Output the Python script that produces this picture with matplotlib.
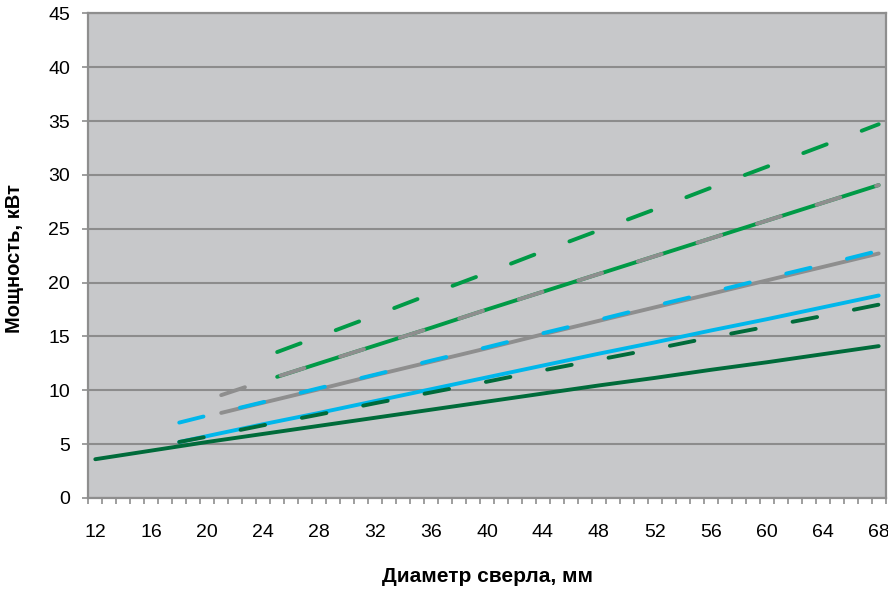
import matplotlib
matplotlib.use('Agg')
import matplotlib.pyplot as plt
from matplotlib.ticker import MultipleLocator

# drill diameter, mm (category axis 12..68)
x_dg = [12, 16, 20, 24, 28, 32, 36, 40, 44, 48, 52, 56, 60, 64, 68]
y_dg_solid = [3.6, 4.4, 5.2, 5.95, 6.7, 7.45, 8.2, 8.95, 9.7, 10.45, 11.15, 11.9, 12.6, 13.35, 14.1]

x_18 = [18, 20, 24, 28, 32, 36, 40, 44, 48, 52, 56, 60, 64, 68]
y_dg_dash = [5.2, 5.7, 6.75, 7.75, 8.8, 9.8, 10.8, 11.85, 12.85, 13.85, 14.9, 15.9, 16.9, 17.95]
y_cyan_solid = [5.2, 5.75, 6.85, 7.9, 9.0, 10.1, 11.2, 12.3, 13.4, 14.45, 15.55, 16.6, 17.7, 18.8]
y_cyan_dash = [7.0, 7.65, 8.9, 10.2, 11.45, 12.75, 14.0, 15.3, 16.55, 17.85, 19.1, 20.4, 21.65, 22.95]

x_21 = [21, 24, 28, 32, 36, 40, 44, 48, 52, 56, 60, 64, 68]
y_gray_solid = [7.9, 8.85, 10.1, 11.4, 12.65, 13.9, 15.2, 16.45, 17.7, 18.95, 20.2, 21.45, 22.7]
y_gray_dash = [9.55, 10.85, 12.5, 14.15, 15.8, 17.5, 19.15, 20.8, 22.45, 24.1, 25.75, 27.4, 29.05]

x_25 = [25, 28, 32, 36, 40, 44, 48, 52, 56, 60, 64, 68]
y_green_solid = [11.25, 12.5, 14.15, 15.8, 17.5, 19.15, 20.8, 22.45, 24.1, 25.75, 27.4, 29.05]
y_green_dash = [13.55, 15.0, 16.95, 18.95, 20.9, 22.9, 24.85, 26.8, 28.8, 30.75, 32.7, 34.7]

x_labels = list(range(12, 69, 4))

plt.rcParams['font.family'] = ['Liberation Sans Narrow', 'Liberation Sans', 'DejaVu Sans']
plt.rcParams['lines.scale_dashes'] = False

DKGREEN = '#006B3A'
GREEN = '#009A46'
CYAN = '#00B7EB'
GRAY = '#8E8E8E'
DASH = (0, (18, 27))
LW = 2.8

fig = plt.figure(figsize=(8.88, 5.95), dpi=100)
ax = fig.add_axes([88.3 / 888, 1 - 498 / 595, (885.7 - 88.3) / 888, (498 - 13.3) / 595])
ax.set_facecolor('#C7C8CA')

def draw(x, y, color, ls):
    ax.plot(x, y, color=color, lw=LW, linestyle=ls,
            solid_capstyle='round', dash_capstyle='round', zorder=3)

draw(x_dg, y_dg_solid, DKGREEN, '-')
draw(x_18, y_cyan_solid, CYAN, '-')
draw(x_18, y_dg_dash, DKGREEN, DASH)
draw(x_21, y_gray_solid, GRAY, '-')
draw(x_18, y_cyan_dash, CYAN, DASH)
draw(x_25, y_green_solid, GREEN, '-')
draw(x_21, y_gray_dash, GRAY, DASH)
draw(x_25, y_green_dash, GREEN, DASH)

ax.set_xlim(11.5, 68.5)
ax.set_ylim(0, 45)
ax.yaxis.set_major_locator(MultipleLocator(5))
ax.grid(axis='y', color='#8C8C8C', lw=1.5, zorder=1)
ax.set_axisbelow(True)

ax.set_xticks(x_labels)
ax.set_xticklabels([str(v) for v in x_labels])
ax.set_xticks([v + 0.5 for v in range(11, 69)], minor=True)
ax.tick_params(axis='x', which='major', length=0, pad=19, labelsize=14)
ax.tick_params(axis='x', which='minor', length=4, width=1.2, color='#8E8E8E', direction='out')
ax.tick_params(axis='y', which='major', length=4.1, width=1.2, color='#8E8E8E', pad=9, labelsize=14)

for s in ax.spines.values():
    s.set_color('#8E8E8E')
    s.set_linewidth(1.6)

fig.text(15 / 888, 1 - 259 / 595, 'Мощность, кВт', rotation=90, ha='center', va='center',
         fontsize=14.5, fontweight='bold')
fig.text(487 / 888, 1 - 576 / 595, 'Диаметр сверла, мм', ha='center', va='center',
         fontsize=15, fontweight='bold')

fig.savefig('out.png', dpi=100)
